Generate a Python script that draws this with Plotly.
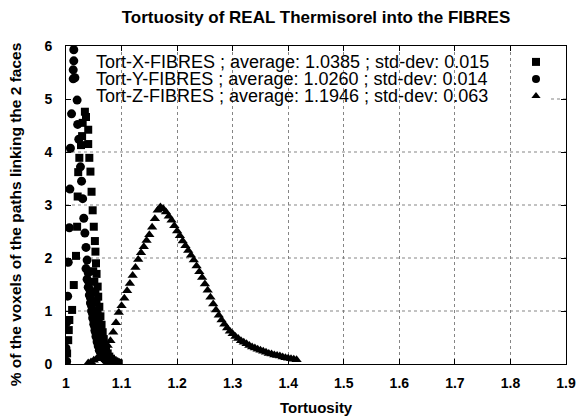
"""Tortuosity histogram of the three directions (X, Y, Z) into the fibres."""

import plotly.graph_objects as go

# --- data --------------------------------------------------------------------
x_tort = [1.001, 1.002, 1.004, 1.005, 1.006, 1.011, 1.014, 1.018, 1.020, 1.021,
          1.022, 1.024, 1.027, 1.029, 1.030, 1.034, 1.036, 1.040, 1.040, 1.042,
          1.044, 1.046, 1.048, 1.049, 1.050, 1.051, 1.052, 1.053, 1.053, 1.054,
          1.055, 1.055, 1.057, 1.057, 1.058, 1.059, 1.060, 1.061, 1.062, 1.063,
          1.064, 1.065, 1.066, 1.067, 1.068, 1.069, 1.070, 1.071, 1.072, 1.074,
          1.075, 1.077, 1.078, 1.080, 1.081, 1.083, 1.084, 1.086, 1.087, 1.089,
          1.090, 1.092, 1.093, 1.095]
x_pct = [0.02, 0.20, 0.45, 0.64, 0.83, 1.02, 1.49, 2.04, 2.59, 3.16,
         3.62, 3.89, 4.13, 4.30, 4.55, 4.76, 4.66, 4.42, 4.15, 3.89,
         3.63, 3.25, 2.90, 1.75, 2.59, 1.55, 2.32, 2.12, 1.35, 1.90,
         1.70, 1.18, 1.46, 1.00, 1.27, 0.85, 1.08, 0.72, 0.90, 0.60,
         0.74, 0.50, 0.60, 0.40, 0.47, 0.32, 0.36, 0.25, 0.27, 0.18,
         0.20, 0.12, 0.14, 0.08, 0.10, 0.06, 0.07, 0.04, 0.05, 0.03,
         0.03, 0.02, 0.02, 0.01]

y_tort = [1.000, 1.001, 1.001, 1.003, 1.004, 1.006, 1.007, 1.008, 1.010, 1.013,
          1.013, 1.014, 1.014, 1.016, 1.020, 1.021, 1.023, 1.026, 1.028, 1.030,
          1.032, 1.034, 1.036, 1.036, 1.038, 1.038, 1.040, 1.040, 1.041, 1.042,
          1.043, 1.044, 1.044, 1.046, 1.046, 1.048, 1.048, 1.050, 1.050, 1.052,
          1.052, 1.054, 1.054, 1.056, 1.056, 1.058, 1.058, 1.060, 1.060, 1.062,
          1.063, 1.064, 1.066, 1.066, 1.068, 1.070, 1.071, 1.074, 1.074, 1.077,
          1.078, 1.080, 1.082, 1.083, 1.086, 1.087, 1.089]
y_pct = [0.30, 0.05, 0.78, 1.28, 1.92, 2.57, 3.30, 4.07, 4.72, 5.38,
         5.55, 5.72, 5.93, 5.40, 4.98, 4.52, 4.24, 3.72, 3.45, 3.12,
         2.75, 2.47, 2.20, 1.80, 1.96, 1.60, 1.72, 1.45, 1.55, 1.30,
         1.40, 1.25, 1.15, 1.10, 1.00, 0.95, 0.87, 0.82, 0.75, 0.70,
         0.63, 0.58, 0.52, 0.47, 0.42, 0.38, 0.34, 0.30, 0.26, 0.24,
         0.20, 0.18, 0.14, 0.15, 0.11, 0.10, 0.08, 0.06, 0.07, 0.05,
         0.05, 0.04, 0.04, 0.03, 0.03, 0.03, 0.02]

z_tort = [1.040, 1.045, 1.050, 1.055, 1.060, 1.065, 1.070, 1.075, 1.080, 1.085,
          1.090, 1.095, 1.100, 1.105, 1.110, 1.115, 1.120, 1.125, 1.130, 1.135,
          1.140, 1.145, 1.150, 1.155, 1.160, 1.165, 1.170, 1.175, 1.180, 1.185,
          1.190, 1.195, 1.200, 1.205, 1.210, 1.215, 1.220, 1.225, 1.230, 1.235,
          1.240, 1.245, 1.250, 1.255, 1.260, 1.265, 1.270, 1.275, 1.280, 1.285,
          1.290, 1.295, 1.300, 1.305, 1.310, 1.315, 1.320, 1.325, 1.330, 1.335,
          1.340, 1.345, 1.350, 1.355, 1.360, 1.365, 1.370, 1.375, 1.380, 1.385,
          1.390, 1.395, 1.400, 1.405, 1.410, 1.415]
z_pct = [0.02, 0.04, 0.07, 0.10, 0.14, 0.20, 0.27, 0.35, 0.44, 0.60,
         0.78, 0.97, 1.10, 1.24, 1.38, 1.52, 1.67, 1.82, 1.97, 2.10,
         2.21, 2.33, 2.44, 2.58, 2.74, 2.90, 2.96, 2.93, 2.87, 2.79,
         2.71, 2.61, 2.51, 2.42, 2.32, 2.23, 2.14, 2.05, 1.96, 1.85,
         1.74, 1.63, 1.51, 1.39, 1.26, 1.13, 1.02, 0.92, 0.83, 0.75,
         0.68, 0.62, 0.57, 0.52, 0.48, 0.44, 0.41, 0.38, 0.35, 0.32,
         0.30, 0.28, 0.26, 0.24, 0.22, 0.20, 0.19, 0.17, 0.16, 0.15,
         0.13, 0.12, 0.11, 0.10, 0.09, 0.08]

legend_labels = [
    "Tort-X-FIBRES ; average: 1.0385 ; std-dev: 0.015",
    "Tort-Y-FIBRES ; average: 1.0260 ; std-dev: 0.014",
    "Tort-Z-FIBRES ; average: 1.1946 ; std-dev: 0.063",
]
legend_symbols = ["square", "circle", "triangle-up"]
marker_sizes = [8, 9, 9]

x_ticks = [1, 1.1, 1.2, 1.3, 1.4, 1.5, 1.6, 1.7, 1.8, 1.9]
y_ticks = [0, 1, 2, 3, 4, 5, 6]

FONT = "Liberation Sans, Arial, sans-serif"
GRID = "rgba(120,120,120,0.9)"

W, H = 588, 419

fig = go.Figure()

series = [(x_tort, x_pct), (y_tort, y_pct), (z_tort, z_pct)]
for (xs, ys), sym, size in zip(series, legend_symbols, marker_sizes):
    fig.add_trace(go.Scatter(
        x=xs, y=ys, mode="markers",
        marker=dict(symbol=sym, size=size, color="black", line_width=0),
        showlegend=False,
    ))

# horizontal grid (the y=5 line is hidden behind the key in the original)
for yv in y_ticks[1:-1]:
    x0 = 1.0 if yv != 5 else 1.873
    fig.add_shape(type="line", xref="x", yref="y", x0=x0, x1=1.9, y0=yv, y1=yv,
                  line=dict(color=GRID, width=1, dash="dot"), layer="below")

# key: text + symbols on the right
key_y = [0.950, 0.896, 0.843]
for label, ky in zip(legend_labels, key_y):
    fig.add_annotation(xref="paper", yref="paper", x=0.055, y=ky, text=label,
                       showarrow=False, xanchor="left", yanchor="middle",
                       font=dict(family=FONT, size=18, color="black"))
fig.add_trace(go.Scatter(
    x=[0.94, 0.94, 0.94], y=key_y, mode="markers", xaxis="x2", yaxis="y2",
    marker=dict(symbol=legend_symbols, size=8, color="black", line_width=0),
    showlegend=False, hoverinfo="skip",
))

# axis titles
fig.add_annotation(xref="paper", yref="paper", x=-0.101, y=0.469,
                   text="<b>% of the voxels of the paths linking the 2 faces</b>",
                   textangle=-90, showarrow=False, xanchor="center", yanchor="middle",
                   font=dict(family=FONT, size=15.5, color="black"))
fig.add_annotation(xref="paper", yref="paper", x=0.5, y=-0.138,
                   text="<b>Tortuosity</b>", showarrow=False,
                   xanchor="center", yanchor="middle",
                   font=dict(family=FONT, size=15, color="black"))

axis_common = dict(
    showline=True, linecolor="black", linewidth=1, mirror="ticks",
    ticks="inside", ticklen=5, tickcolor="black", zeroline=False,
    tickfont=dict(family=FONT, size=14, color="black", weight="bold"),
)

fig.update_layout(
    width=W, height=H,
    margin=dict(l=66, r=17, t=46, b=55),
    paper_bgcolor="white", plot_bgcolor="white",
    title=dict(text="<b>Tortuosity of REAL Thermisorel into the FIBRES</b>",
               x=0.5, xref="paper", y=1 - 17 / H, yanchor="middle",
               font=dict(family=FONT, size=17, color="black")),
    xaxis=dict(range=[1, 1.9], tickvals=x_ticks, ticktext=[f"{v:g}" for v in x_ticks],
               showgrid=True, gridcolor=GRID, griddash="dot", gridwidth=1,
               ticklabelstandoff=6, **axis_common),
    yaxis=dict(range=[0, 6], tickvals=y_ticks, showgrid=False,
               ticklabelstandoff=10, **axis_common),
    xaxis2=dict(range=[0, 1], overlaying="x", visible=False),
    yaxis2=dict(range=[0, 1], overlaying="y", visible=False),
    showlegend=False,
)

# the default page has an 8px body margin; remove it so the 588x419 figure fits the window
fig.write_html("out.html", config={"displayModeBar": False},
               post_script="document.body.style.margin = '0';")
